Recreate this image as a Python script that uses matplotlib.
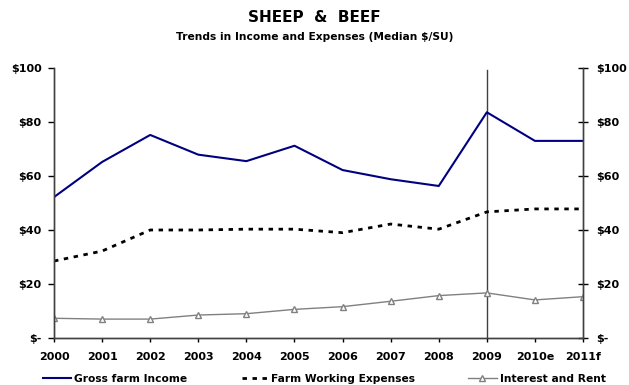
import matplotlib
matplotlib.use("Agg")
import matplotlib.pyplot as plt

# data (median $/SU)
years = ["2000", "2001", "2002", "2003", "2004", "2005", "2006", "2007",
         "2008", "2009", "2010e", "2011f"]
gross_income = [52.2, 65.2, 75.2, 67.9, 65.5, 71.2, 62.2, 58.8, 56.3, 83.6, 73.0, 73.0]
working_exp = [28.5, 32.2, 40.0, 40.0, 40.3, 40.3, 39.0, 42.2, 40.3, 46.7, 47.8, 47.8]
interest_rent = [7.3, 7.0, 7.0, 8.5, 9.0, 10.6, 11.6, 13.6, 15.7, 16.7, 14.1, 15.3]
y_ticks = [0, 20, 40, 60, 80, 100]
y_labels = ["$-", "$20", "$40", "$60", "$80", "$100"]
marker_year = "2009"

plt.rcParams['font.family'] = ['DejaVu Sans']
plt.rcParams['font.weight'] = 'bold'

fig = plt.figure(figsize=(6.29, 3.85), dpi=100)
ax = fig.add_axes([0.0859, 0.1221, 0.841, 0.7013])

x = list(range(len(years)))
l1, = ax.plot(x, gross_income, color="#000080", lw=1.5, label="Gross farm Income")
l2, = ax.plot(x, working_exp, color="black", lw=2, linestyle=(0, (1.6, 2.0)),
              label="Farm Working Expenses")
l3, = ax.plot(x, interest_rent, color="#808080", lw=1, marker="^", markersize=5,
              markerfacecolor="white", markeredgecolor="#808080",
              label="Interest and Rent")

xi = years.index(marker_year)
ax.plot([xi, xi], [0, 99.3], color="#404040", lw=1, zorder=0)

ax.set_xlim(0, len(years) - 1)
ax.set_ylim(0, 100)
ax.set_xticks(x)
ax.set_xticklabels(years, fontsize=8, fontweight="bold")
ax.set_yticks(y_ticks)
ax.set_yticklabels(y_labels, fontsize=8, fontweight="bold")
ax.tick_params(axis="y", direction="out", length=4, width=1, pad=5)
ax.tick_params(axis="x", direction="out", length=3, width=1, pad=7)

ax2 = ax.twinx()
ax2.set_ylim(0, 100)
ax2.set_yticks(y_ticks)
ax2.set_yticklabels(y_labels, fontsize=8, fontweight="bold")
ax2.tick_params(axis="y", direction="inout", length=7, width=1, pad=6)

for a in (ax, ax2):
    a.spines["top"].set_visible(False)
    for s in ("left", "right", "bottom"):
        a.spines[s].set_color("#404040")
        a.spines[s].set_linewidth(1)

fig.text(0.5, 0.955, "SHEEP  &  BEEF", ha="center", va="center",
         fontsize=11, fontweight="bold")
fig.text(0.5, 0.905, "Trends in Income and Expenses (Median $/SU)", ha="center",
         va="center", fontsize=7.7, fontweight="bold")

# one legend per entry so the gaps match the original layout
leg_y = 1 - 379 / 385
for handle, x_px, hl in [(l1, 43, 2.6), (l2, 242, 2.4), (l3, 468, 2.7)]:
    fig.legend(handles=[handle], loc="center left", bbox_to_anchor=(x_px / 629, leg_y),
               frameon=False, fontsize=7.7, handlelength=hl, handletextpad=0.3,
               borderpad=0, borderaxespad=0)

fig.savefig("out.png", dpi=100)
